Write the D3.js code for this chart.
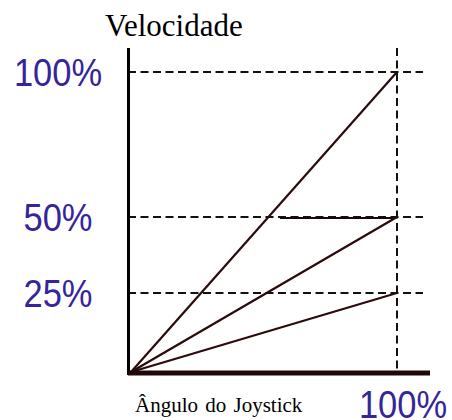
<!DOCTYPE html>
<html>
<head>
<meta charset="utf-8">
<script src="https://cdn.jsdelivr.net/npm/d3@7"></script>
<style>
    body { margin: 0; background: #fff; }
    svg { display: block; }
</style>
</head>
<body>
<script>
document.addEventListener('DOMContentLoaded', init);

// speed levels (%) reached at full joystick angle
var speedLevels = [100, 50, 25];
var tickLabels = ["100%", "50%", "25%"];
var xMaxLabel = "100%";
var yTitle = "Velocidade";
var xTitle = "Ângulo do Joystick";

// the picture's y axis is not quite linear, so tick positions are mapped piecewise
var yDomain = [0, 25, 50, 100];

let labelColor = "#35259b";

function init() {
    let width = 452;
    let height = 420;

    let xScale = d3.scaleLinear()
        .domain([0, 100])
        .range([131, 397]);

    let yScale = d3.scaleLinear()
        .domain(yDomain)
        .range([372, 293, 217, 72]);

    let svg = d3.select("body")
        .append("svg")
        .attr("width", width)
        .attr("height", height);

    // horizontal dashed guides
    svg.selectAll("line.hguide")
        .data(speedLevels)
        .enter()
        .append("line")
        .attr("class", "hguide")
        .attr("x1", xScale(0) - 3)
        .attr("x2", xScale(100) + 26)
        .attr("y1", (d) => yScale(d))
        .attr("y2", (d) => yScale(d))
        .attr("stroke", "#111")
        .attr("stroke-width", 2)
        .attr("stroke-dasharray", "8,4.5");

    // the solid-looking stretch on the 50% guide
    svg.append("line")
        .attr("x1", xScale(56))
        .attr("x2", xScale(99))
        .attr("y1", yScale(50) + 1)
        .attr("y2", yScale(50) + 1)
        .attr("stroke", "#1a0808")
        .attr("stroke-width", 2);

    // vertical dashed guide at 100% angle
    svg.append("line")
        .attr("x1", xScale(100))
        .attr("x2", xScale(100))
        .attr("y1", yScale(100) - 24)
        .attr("y2", yScale(0))
        .attr("stroke", "#111")
        .attr("stroke-width", 2)
        .attr("stroke-dasharray", "8,4.5");

    // speed lines
    svg.selectAll("line.speed")
        .data(speedLevels)
        .enter()
        .append("line")
        .attr("class", "speed")
        .attr("x1", xScale(0))
        .attr("y1", yScale(0))
        .attr("x2", xScale(100))
        .attr("y2", (d) => yScale(d))
        .attr("stroke", "#2a0a0a")
        .attr("stroke-width", 2.2);

    // axes
    svg.append("line")
        .attr("x1", xScale(0) - 2.5)
        .attr("x2", xScale(0) - 2.5)
        .attr("y1", yScale(100) - 24)
        .attr("y2", yScale(0) + 3)
        .attr("stroke", "#000")
        .attr("stroke-width", 3);

    svg.append("line")
        .attr("x1", xScale(0) - 3)
        .attr("x2", xScale(100) + 33)
        .attr("y1", yScale(0) + 1)
        .attr("y2", yScale(0) + 1)
        .attr("stroke", "#200808")
        .attr("stroke-width", 5);

    // y tick labels
    svg.selectAll("text.tick")
        .data(speedLevels)
        .enter()
        .append("text")
        .attr("class", "tick")
        .text((d, i) => tickLabels[i])
        .attr("transform", (d) => "translate(58," + (yScale(d) + 14) + ") scale(1,1.15)")
        .attr("text-anchor", "middle")
        .attr("font-family", "'Liberation Sans', Arial, sans-serif")
        .attr("font-size", "34.5px")
        .attr("fill", labelColor);

    // x tick label
    svg.append("text")
        .text(xMaxLabel)
        .attr("transform", "translate(" + (xScale(100) + 6) + ",418) scale(1,1.12)")
        .attr("text-anchor", "middle")
        .attr("font-family", "'Liberation Sans', Arial, sans-serif")
        .attr("font-size", "34.5px")
        .attr("fill", labelColor);

    // titles
    svg.append("text")
        .text(yTitle)
        .attr("x", 105)
        .attr("y", 36)
        .attr("font-family", "'Liberation Serif', 'Times New Roman', serif")
        .attr("font-size", "31px")
        .attr("fill", "#000");

    svg.append("text")
        .text(xTitle)
        .attr("x", 135)
        .attr("y", 412)
        .attr("font-family", "'Liberation Serif', 'Times New Roman', serif")
        .attr("font-size", "21px")
        .attr("word-spacing", "2px")
        .attr("fill", "#000");
}
</script>
</body>
</html>
